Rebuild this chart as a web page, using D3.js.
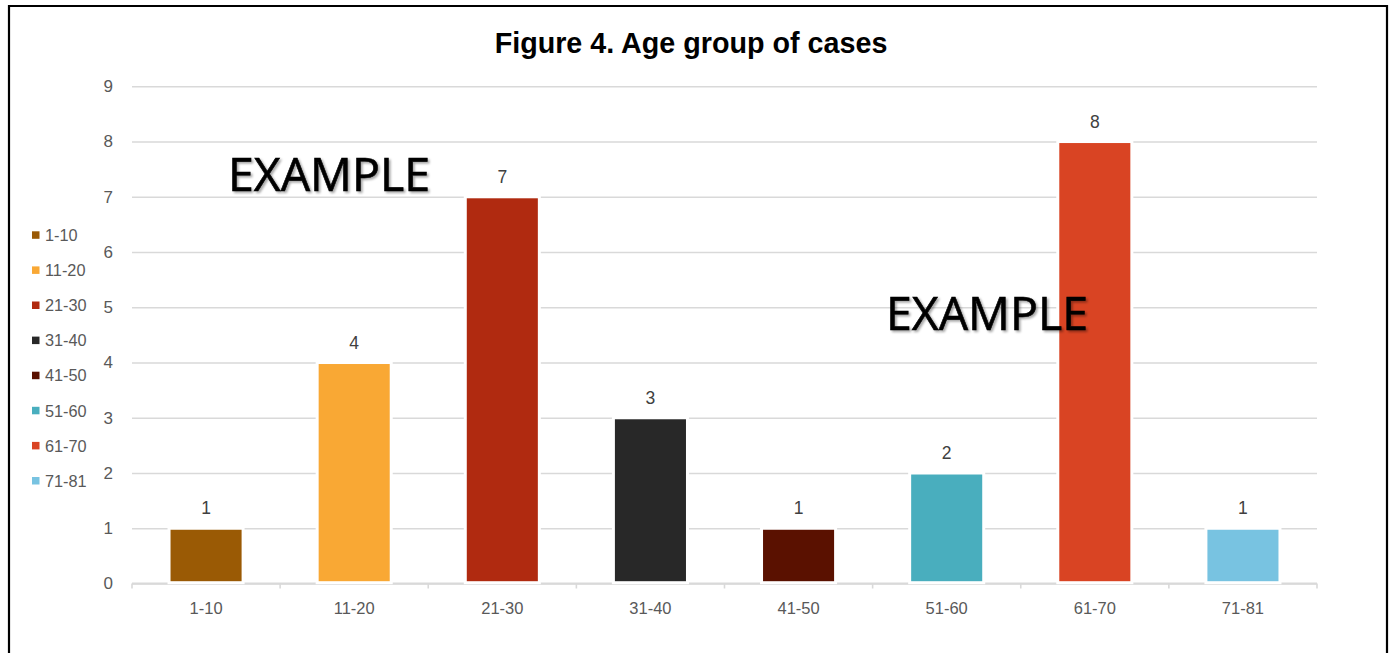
<!DOCTYPE html>
<html>
<head>
<meta charset="utf-8">
<script src="https://cdn.jsdelivr.net/npm/d3@7"></script>
<style>
  html, body { margin: 0; padding: 0; background: #fff; }
  svg { display: block; }
</style>
</head>
<body>
<svg id="chart" width="1390" height="653"></svg>
<script>
// Age group of cases
const categories = ["1-10", "11-20", "21-30", "31-40", "41-50", "51-60", "61-70", "71-81"];
const cases = [1, 4, 7, 3, 1, 2, 8, 1];
const barColors = ["#9a5a05", "#f9a834", "#b02a10", "#282828", "#5a1100", "#49aebe", "#d94423", "#78c3e1"];
const yTicks = [0, 1, 2, 3, 4, 5, 6, 7, 8, 9];
const titleText = "Figure 4. Age group of cases";
const stampText = "EXAMPLE";

const svg = d3.select("#chart");
const W = 1390, H = 653;

// outer frame (bottom edge runs past the page)
svg.append("path")
  .attr("d", `M9,${H + 2} V6 H1387 V${H + 2}`)
  .attr("fill", "none")
  .attr("stroke", "#000")
  .attr("stroke-width", 2.2);

const x = d3.scaleBand()
  .domain(categories)
  .range([132, 1317])
  .paddingInner(0.5)
  .paddingOuter(0.25);

const y = d3.scaleLinear()
  .domain([0, 9])
  .range([583.5, 86.3]);

const font = "'Liberation Sans', Arial, Helvetica, sans-serif";

// horizontal gridlines
const yAxis = d3.axisLeft(y)
  .tickValues(yTicks)
  .tickSize(-(1317 - 132))
  .tickPadding(19)
  .tickFormat(d3.format("d"));

const gy = svg.append("g")
  .attr("transform", "translate(132,0)")
  .call(yAxis);
gy.select(".domain").remove();
gy.selectAll(".tick line")
  .attr("stroke", "#d9d9d9")
  .attr("stroke-width", 1.6);
gy.selectAll(".tick text")
  .attr("fill", "#595959")
  .style("font-family", font)
  .style("font-size", "17px");

// category axis with boundary ticks
const gx = svg.append("g")
  .attr("transform", `translate(0,${y(0)})`)
  .call(d3.axisBottom(x).tickSize(0).tickPadding(19));
gx.select(".domain").remove();
gx.selectAll(".tick text")
  .attr("fill", "#595959")
  .style("font-family", font)
  .style("font-size", "16.5px");

const step = x.step();
const bounds = d3.range(categories.length + 1).map(i => 132 + i * step);
gx.append("line")
  .attr("x1", 132).attr("x2", 1317)
  .attr("y1", 0).attr("y2", 0)
  .attr("stroke", "#d9d9d9")
  .attr("stroke-width", 1.8);
gx.selectAll(".bound")
  .data(bounds)
  .join("line")
  .attr("class", "bound")
  .attr("x1", d => d).attr("x2", d => d)
  .attr("y1", 0).attr("y2", 5)
  .attr("stroke", "#d9d9d9")
  .attr("stroke-width", 1.6);

// bars with white outline
svg.append("g")
  .selectAll("rect")
  .data(cases)
  .join("rect")
  .attr("x", (d, i) => x(categories[i]))
  .attr("y", d => y(d))
  .attr("width", x.bandwidth())
  .attr("height", d => y(0) - y(d) - 0.8)
  .attr("fill", (d, i) => barColors[i])
  .attr("stroke", "#fff")
  .attr("stroke-width", 3);

// value labels
svg.append("g")
  .selectAll("text")
  .data(cases)
  .join("text")
  .attr("x", (d, i) => x(categories[i]) + x.bandwidth() / 2)
  .attr("y", d => y(d) - 14)
  .attr("text-anchor", "middle")
  .attr("fill", "#404040")
  .style("font-family", font)
  .style("font-size", "17.5px")
  .text(d => d);

// title
svg.append("text")
  .attr("x", 691)
  .attr("y", 53)
  .attr("text-anchor", "middle")
  .attr("fill", "#000")
  .style("font-family", font)
  .style("font-weight", "bold")
  .style("font-size", "28.7px")
  .text(titleText);

// legend
const legend = svg.append("g");
const rows = legend.selectAll("g")
  .data(categories)
  .join("g")
  .attr("transform", (d, i) => `translate(32,${235.3 + i * 35.1})`);
rows.append("rect")
  .attr("x", 0).attr("y", -4)
  .attr("width", 7.5).attr("height", 7.5)
  .attr("fill", (d, i) => barColors[i]);
rows.append("text")
  .attr("x", 13)
  .attr("y", 0)
  .attr("dy", "0.35em")
  .attr("fill", "#595959")
  .style("font-family", font)
  .style("font-size", "16.3px")
  .text(d => d);

// stamped sample text
const defs = svg.append("defs");
const f = defs.append("filter").attr("id", "shadow")
  .attr("x", "-5%").attr("y", "-20%").attr("width", "115%").attr("height", "150%");
f.append("feDropShadow")
  .attr("dx", 1.8).attr("dy", 1.8)
  .attr("stdDeviation", 1.2)
  .attr("flood-color", "#000")
  .attr("flood-opacity", 0.35);

const stamps = [{ x: 228, y: 191 }, { x: 886, y: 330 }];
svg.append("g")
  .selectAll("text")
  .data(stamps)
  .join("text")
  .attr("x", d => d.x)
  .attr("y", d => d.y)
  .attr("textLength", 202)
  .attr("lengthAdjust", "spacingAndGlyphs")
  .attr("fill", "#000")
  .attr("stroke", "#000")
  .attr("stroke-width", 0.6)
  .attr("filter", "url(#shadow)")
  .style("font-family", "'Open Sans', 'Noto Sans', sans-serif")
  .style("font-size", "45px")
  .text(stampText);
</script>
</body>
</html>
